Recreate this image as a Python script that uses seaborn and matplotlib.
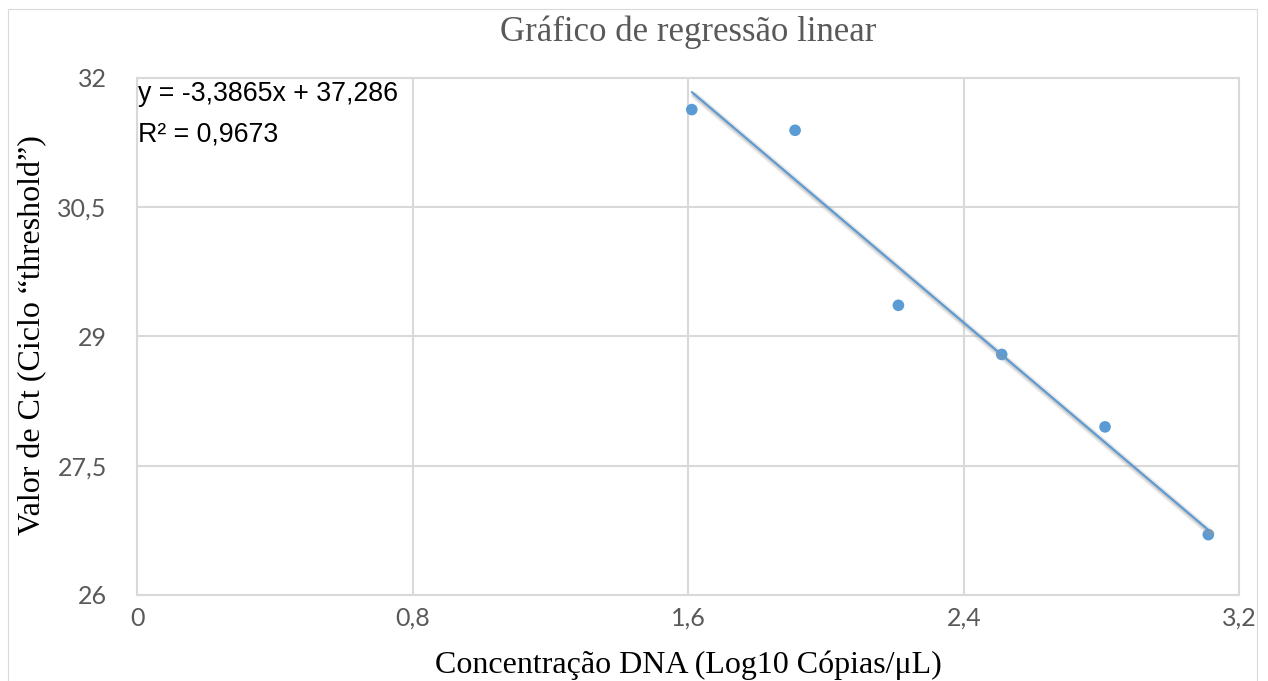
import matplotlib
matplotlib.use("Agg")
import matplotlib.pyplot as plt
import matplotlib.patheffects as pe
from matplotlib.patches import Rectangle
from matplotlib.ticker import FuncFormatter, FixedLocator
import seaborn as sns
import pandas as pd

# ---- data ----
conc_log10 = [1.61, 1.91, 2.21, 2.51, 2.81, 3.11]
ct_values = [31.63, 31.39, 29.36, 28.79, 27.95, 26.70]
trend_slope = -3.3865
trend_intercept = 37.286
r_squared = 0.9673
x_ticks = [0, 0.8, 1.6, 2.4, 3.2]
y_ticks = [26, 27.5, 29, 30.5, 32]

title = "Gráfico de regressão linear"
x_label = "Concentração DNA (Log10 Cópias/μL)"
y_label = "Valor de Ct (Ciclo “threshold”)"
eq_line1 = "y = -3,3865x + 37,286"
eq_line2 = "R² = 0,9673"

sns.set_theme(style="whitegrid")
plt.rcParams["font.family"] = ["Liberation Serif", "DejaVu Serif"]

blue = "#5B9BD5"
grid_c = "#D9D9D9"
tick_c = "#595959"

df = pd.DataFrame({"x": conc_log10, "y": ct_values})
trend_x = [min(conc_log10), max(conc_log10)]
trend_df = pd.DataFrame({"x": trend_x,
                         "y": [trend_slope * v + trend_intercept for v in trend_x]})

fig = plt.figure(figsize=(12.68, 6.81), dpi=100)
ax = fig.add_axes([0.1083, 0.1263, 0.8691, 0.7596])
ax.set_facecolor("white")

sns.scatterplot(data=df, x="x", y="y", ax=ax, color=blue, s=70,
                edgecolor="none", zorder=3, clip_on=False)
sns.lineplot(data=trend_df, x="x", y="y", ax=ax, color=blue, linewidth=1.5,
             zorder=4,
             path_effects=[pe.SimpleLineShadow(offset=(2.0, -2.4), shadow_color="#a0a0a0",
                                               alpha=0.25, linewidth=5),
                           pe.SimpleLineShadow(offset=(1.6, -2.0), shadow_color="#909090",
                                               alpha=0.35, linewidth=2.5),
                           pe.Normal()])

ax.set_xlim(0, 3.2)
ax.set_ylim(26, 32)
ax.xaxis.set_major_locator(FixedLocator(x_ticks))
ax.yaxis.set_major_locator(FixedLocator(y_ticks))
fmt = FuncFormatter(lambda v, p: f"{v:g}".replace(".", ","))
ax.xaxis.set_major_formatter(fmt)
ax.yaxis.set_major_formatter(fmt)

ax.grid(True, color=grid_c, linewidth=1.5)
for s in ax.spines.values():
    s.set_visible(True)
    s.set_color(grid_c)
    s.set_linewidth(1.5)

ax.tick_params(axis="both", length=0, labelcolor=tick_c, labelsize=18)
ax.tick_params(axis="x", pad=8.5)
ax.tick_params(axis="y", pad=22)
for lab in ax.get_xticklabels() + ax.get_yticklabels():
    lab.set_family(["Lato", "DejaVu Sans"])

ax.set_xlabel(x_label, fontsize=23, color="black")
ax.set_ylabel(y_label, fontsize=23, color="black")
ax.xaxis.set_label_coords(0.5, -0.107)
ax.yaxis.set_label_coords(-0.082, 0.503)

ax.set_title(title, fontsize=25, color=tick_c, y=1.071, pad=0, va="baseline")

ax.text(0.001, 0.955, eq_line1, transform=ax.transAxes, fontsize=19.3,
        family=["Liberation Sans", "DejaVu Sans"], va="baseline", ha="left", color="black")
ax.text(0.001, 0.876, eq_line2, transform=ax.transAxes, fontsize=19.3,
        family=["Liberation Sans", "DejaVu Sans"], va="baseline", ha="left", color="black")

fig.patches.append(Rectangle((8 / 1268, -0.01), (1257 - 8) / 1268, 1 - 9 / 681 + 0.01,
                             transform=fig.transFigure, fill=False,
                             edgecolor=grid_c, linewidth=0.8))

fig.savefig("out.png", dpi=100, facecolor="white")
